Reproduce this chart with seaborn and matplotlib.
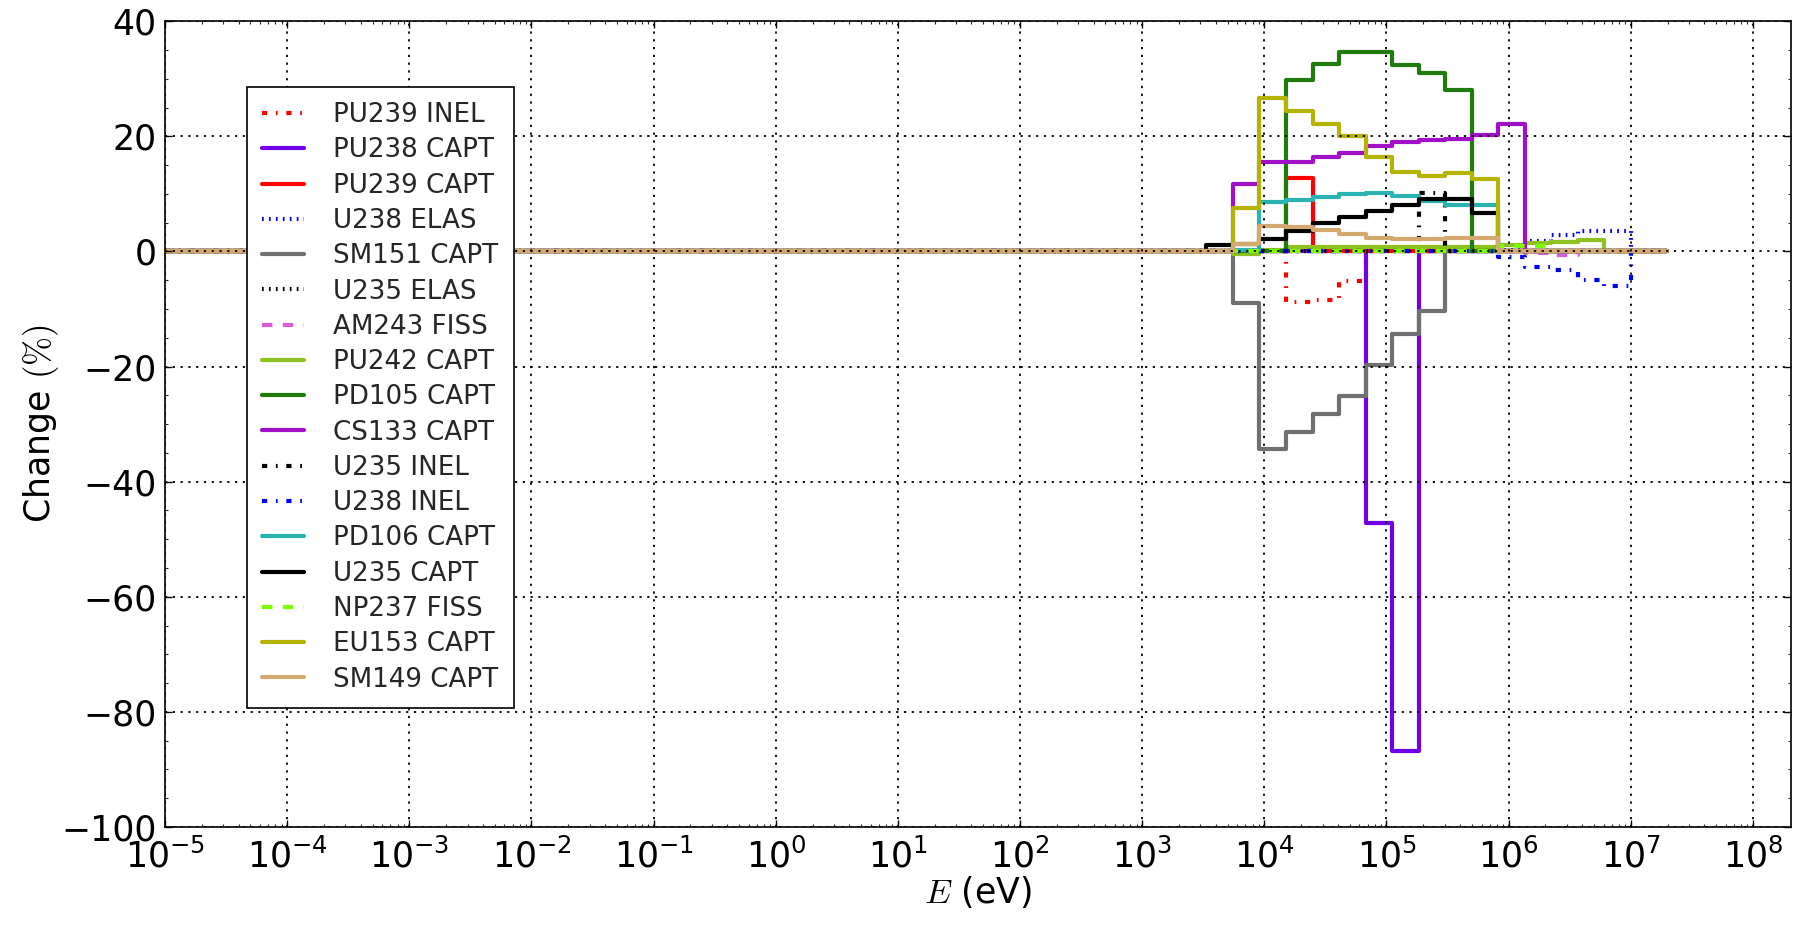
import numpy as np
import pandas as pd
import matplotlib
matplotlib.use("Agg")
import matplotlib.pyplot as plt
from matplotlib.ticker import LogLocator, MultipleLocator, NullFormatter
import seaborn as sns

# ECCO-33 group boundaries (eV), ascending
edges = [1.0e-5, 0.1, 0.54, 4.0, 8.31529, 13.7096, 22.6033, 40.169, 67.904, 91.6609,
         148.625, 304.325, 454.0, 748.518, 1234.10, 2034.68, 3354.63, 5530.84, 9118.82,
         15034.4, 24787.5, 40867.7, 67379.5, 111090.0, 183156.0, 301974.0, 497871.0,
         820850.0, 1.35335e6, 2.23130e6, 3.67879e6, 6.06531e6, 1.0e7, 1.96403e7]

# lowest 16 groups (1e-5 .. 3354.6 eV): no change
low = [0.0] * 16

# changes (%) for the upper 17 groups, 3354.6 eV .. 19.64 MeV
pu239_inel = [0, 0, 0, -8.7, -8.4, -5.1, 0, 0, 0, 0, 0, 0, 0, 0, 0, 0, 0]
pu238_capt = [0, 0, 0, 0, 0, 0, -47.1, -86.8, 0, 0, 0, 0, 0, 0, 0, 0, 0]
pu239_capt = [0, 0, 0, 12.8, 0, 0, 0, 0, 0, 0, 0, 0, 0, 0, 0, 0, 0]
u238_elas = [0, 0, 0, 0, 0, 0, 0, 0, 0, 0, 0, 0.3, 1.8, 2.8, 3.6, 3.5, 0]
sm151_capt = [0, -8.9, -34.4, -31.3, -28.3, -25.2, -19.8, -14.3, -10.3, 0, 0, 0, 0, 0, 0, 0, 0]
u235_elas = [0, 0, 0, 0, 0, 0, 0, 0, 0, 0, 0, 0, 0, 0, 0, 0, 0]
am243_fiss = [0, 0, 0, 0, 0, 0, 0, 0, 0, 0, 0, 0, -0.3, -0.7, 0, 0, 0]
pu242_capt = [0, -0.5, 0.2, 0.7, 0.7, 0.7, 0.7, 0.7, 0.7, 0.7, 0.7, 1.2, 1.4, 1.6, 2.0, 0, 0]
pd105_capt = [0, 0, 0, 29.8, 32.6, 34.7, 34.7, 32.4, 31.0, 28.1, 0, 0, 0, 0, 0, 0, 0]
cs133_capt = [0, 11.8, 15.5, 15.5, 16.4, 17.1, 18.3, 19.0, 19.4, 19.6, 20.3, 22.1, 0, 0, 0, 0, 0]
u235_inel = [0, 0, 0, 0, 0, 0, 0, 0, 10.1, 0, 0, 0, 0, 0, 0, 0, 0]
u238_inel = [0, 0, 0, 0, 0, 0, 0, 0, 0, 0, 0, -1.0, -2.7, -3.2, -5.0, -6.0, 0]
pd106_capt = [0, 0.3, 8.6, 8.9, 9.5, 9.9, 10.2, 9.6, 8.8, 8.1, 8.1, 0, 0, 0, 0, 0, 0]
u235_capt = [1.2, 1.3, 2.2, 3.5, 5.0, 6.0, 7.0, 8.1, 9.2, 9.2, 6.7, 0, 0, 0, 0, 0, 0]
np237_fiss = [0, 0.1, 0.1, 0.1, 0.1, 0.1, 0.1, 0.1, 0.1, 0.1, 0.1, 1.0, 0.9, 0, 0, 0, 0]
eu153_capt = [0, 7.6, 26.6, 24.4, 22.1, 20.0, 16.5, 13.8, 13.2, 13.6, 12.6, 0, 0, 0, 0, 0, 0]
sm149_capt = [0, 1.3, 4.5, 4.3, 3.8, 3.1, 2.4, 2.1, 2.1, 2.3, 2.3, 0, 0, 0, 0, 0, 0]

labels = ["PU239 INEL", "PU238 CAPT", "PU239 CAPT", "U238 ELAS", "SM151 CAPT",
          "U235 ELAS", "AM243 FISS", "PU242 CAPT", "PD105 CAPT", "CS133 CAPT",
          "U235 INEL", "U238 INEL", "PD106 CAPT", "U235 CAPT", "NP237 FISS",
          "EU153 CAPT", "SM149 CAPT"]
series = [pu239_inel, pu238_capt, pu239_capt, u238_elas, sm151_capt, u235_elas,
          am243_fiss, pu242_capt, pd105_capt, cs133_capt, u235_inel, u238_inel,
          pd106_capt, u235_capt, np237_fiss, eu153_capt, sm149_capt]

DASHDOT = (0, (3.75, 6.25, 1.25, 6.25))
DOTTED = (0, (1.25, 3.75))
DASHED = (0, (7.5, 7.5))
SOLID = "-"
styles = [
    ("#ff0000", DASHDOT), ("#7000e8", SOLID), ("#ff0000", SOLID), ("#0000ff", DOTTED),
    ("#707070", SOLID), ("#000000", DOTTED), ("#d65ed6", DASHED), ("#8dc21f", SOLID),
    ("#1e7b0c", SOLID), ("#a010c8", SOLID), ("#000000", DASHDOT), ("#0000ff", DASHDOT),
    ("#2ab3b3", SOLID), ("#000000", SOLID), ("#7cfc00", DASHED), ("#b4b400", SOLID),
    ("#d4a86e", SOLID),
]

sns.set_theme(style="white")
plt.rcParams.update({
    "font.family": ["DejaVu Sans"],
    "mathtext.fontset": "cm",
    "lines.scale_dashes": False,
    "xtick.direction": "in",
    "ytick.direction": "in",
    "xtick.top": True,
    "ytick.right": True,
    "axes.edgecolor": "black",
    "axes.linewidth": 1.2,
})

fig = plt.figure(figsize=(18, 9.25), dpi=100)
ax = fig.add_axes([0.0917, 0.106, 0.9033, 0.871])

for lab, vals, (col, ls) in zip(labels, series, styles):
    full = low + list(vals)
    df = pd.DataFrame({"E": edges, "v": full + [full[-1]]})
    sns.lineplot(data=df, x="E", y="v", ax=ax, color=col, linestyle=ls, linewidth=3,
                 drawstyle="steps-post", label=lab, estimator=None, sort=False)

ax.set_xscale("log")
ax.set_xlim(1e-5, 2.05e8)
ax.set_ylim(-100, 40)
ax.xaxis.set_major_locator(LogLocator(base=10, numticks=30))
ax.xaxis.set_minor_locator(LogLocator(base=10, subs=np.arange(2, 10), numticks=300))
ax.xaxis.set_minor_formatter(NullFormatter())
ax.yaxis.set_major_locator(MultipleLocator(20))
ax.yaxis.set_minor_locator(MultipleLocator(5))
ax.tick_params(which="major", length=5, width=1, labelsize=25, colors="black",
               top=True, right=True, bottom=True, left=True)
ax.tick_params(which="minor", length=2.5, width=0.8, top=True, right=True,
               bottom=True, left=True)
ax.tick_params(axis="x", which="major", pad=8.5)
ax.tick_params(axis="y", which="major", pad=6)

ax.grid(True, which="major", color="black", linestyle=(0, (1.6, 4.0)), linewidth=1.3)
ax.set_axisbelow(False)

ax.set_xlabel(r"$E$ (eV)", fontsize=25, color="black", labelpad=-1)
ax.set_ylabel(r"Change $(\%)$", fontsize=25, color="black", labelpad=0)

leg = ax.legend(loc="upper left", bbox_to_anchor=(0.0502, 0.919), borderaxespad=0,
                fontsize=18.8, frameon=True, fancybox=False, framealpha=1,
                edgecolor="black", handlelength=1.6, labelspacing=0.355,
                handletextpad=1.09, borderpad=0.6, numpoints=1)
leg.get_frame().set_linewidth(1.2)

for s in ax.spines.values():
    s.set_visible(True)
    s.set_color("black")

fig.savefig("out.png", dpi=100, facecolor="white")
